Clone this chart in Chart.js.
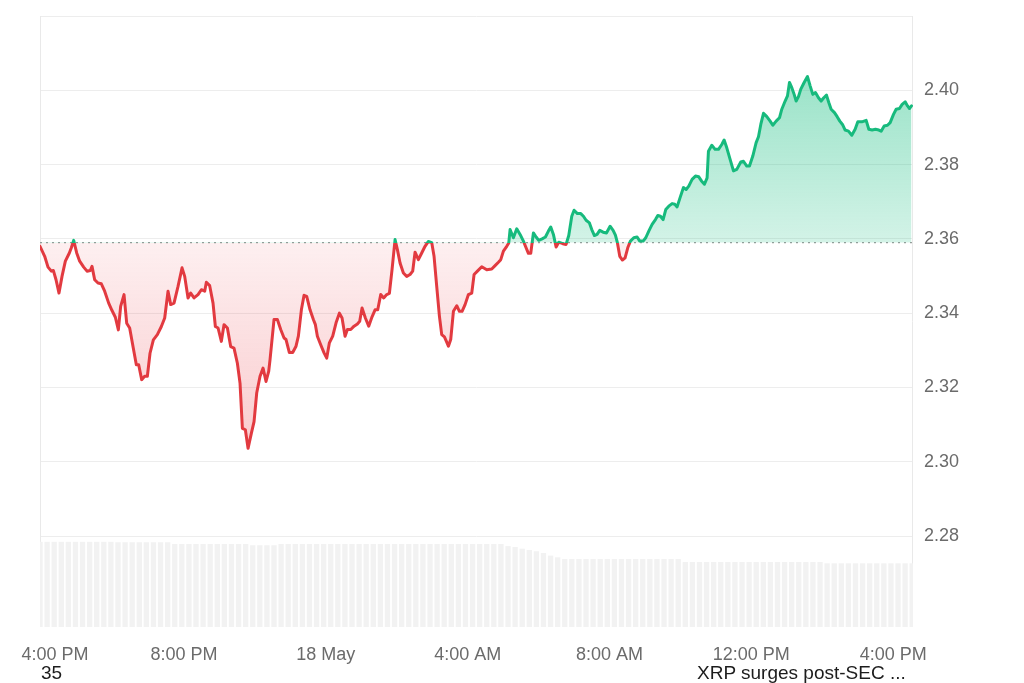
<!DOCTYPE html>
<html>
<head>
<meta charset="utf-8">
<script src="https://cdn.jsdelivr.net/npm/chart.js@4.4.0/dist/chart.umd.min.js"></script>
<style>
html,body{margin:0;padding:0;background:#fff;width:1024px;height:683px;overflow:hidden;}
#wrap{position:relative;width:1024px;height:683px;}
canvas{position:absolute;left:0;top:0;}
.note{position:absolute;font-family:"Liberation Sans",Arial,sans-serif;font-size:19px;color:#1c1c1c;line-height:22px;white-space:nowrap;}
</style>
</head>
<body>
<div id="wrap">
<canvas id="c" width="1024" height="683"></canvas>
<div class="note" style="left:41px;top:662px">35</div>
<div class="note" style="left:697px;top:662px">XRP surges post-SEC ...</div>
</div>
<script>
// Opening price (dotted reference line)
const baseline = 2.359;

// Time in hours since 4:00 PM, 17 May
const times = [
-0.062,0.07,0.164,0.258,0.314,0.39,0.474,0.559,0.653,0.766,
0.822,0.888,0.973,1.057,1.17,1.264,1.358,1.405,1.48,1.574,
1.668,1.762,1.875,1.969,2.063,2.148,2.213,2.308,2.383,2.467,
2.561,2.655,2.721,2.806,2.89,2.966,3.041,3.135,3.248,3.361,
3.455,3.549,3.624,3.718,3.831,3.944,4.019,4.113,4.188,4.282,
4.395,4.489,4.583,4.63,4.724,4.818,4.884,4.96,5.053,5.128,
5.223,5.316,5.41,5.505,5.58,5.646,5.73,5.806,5.9,5.975,
6.05,6.144,6.229,6.313,6.388,
6.426,6.539,6.633,6.727,6.821,6.877,6.971,7.065,7.159,7.225,
7.31,7.385,7.46,7.554,7.648,7.705,7.761,7.855,7.949,8.025,
8.1,8.194,8.288,8.382,8.457,8.542,8.608,8.702,8.796,8.89,
8.955,9.021,9.115,9.209,9.303,9.388,9.463,9.548,9.632,9.717,
9.792,9.867,9.952,10.018,10.093,10.187,10.281,10.375,10.45,10.516,
10.61,10.704,10.798,10.892,10.986,11.052,11.127,11.203,11.268,11.344,
11.4,11.457,11.522,11.598,11.692,11.767,11.842,11.927,12.021,12.115,
12.181,12.275,12.397,12.538,12.679,12.773,12.867,12.933,13.008,13.102,
13.159,
13.196,13.29,13.384,13.478,13.572,13.647,13.713,13.779,13.854,13.93,
14.005,14.099,14.193,14.277,14.343,14.418,14.494,14.569,14.682,14.776,
14.851,14.936,15.001,15.095,15.19,15.265,15.34,15.434,15.5,15.575,
15.65,15.725,15.82,15.914,16.017,16.102,16.167,16.224,16.29,16.365,
16.44,16.515,16.59,16.685,16.779,16.854,16.948,17.023,17.108,17.202,
17.296,17.362,17.437,17.512,17.587,17.672,17.766,17.841,17.907,17.991,
18.086,18.161,18.236,18.33,18.424,18.518,18.594,18.678,18.753,
18.791,18.885,18.979,19.073,19.167,19.233,19.308,19.402,19.496,19.59,
19.703,19.778,19.872,19.948,20.042,20.136,20.202,20.267,20.343,20.437,
20.531,20.606,20.7,20.794,20.86,20.954,21.02,21.076,21.142,21.208,
21.264,21.33,21.396,21.49,21.584,21.659,21.734,21.809,21.894,21.969,
22.044,22.12,22.185,22.251,22.345,22.421,22.496,22.571,22.646,22.74,
22.834,22.928,23.004,23.117,23.239,23.314,23.408,23.502,23.596,23.662,
23.747,23.841,23.916,24.01,24.085,24.179,24.254,24.339,24.405,24.461,
24.517
];

// XRP price (USD)
const prices = [
2.3580,2.3553,2.3524,2.3513,2.3515,2.3490,2.3454,2.3499,2.3540,2.3562,
2.3576,2.3596,2.3562,2.3540,2.3524,2.3513,2.3515,2.3526,2.3490,2.3481,
2.3479,2.3459,2.3427,2.3407,2.3389,2.3355,2.3418,2.3450,2.3373,2.3360,
2.3310,2.3261,2.3261,2.3221,2.3230,2.3230,2.3292,2.3328,2.3342,2.3364,
2.3387,2.3459,2.3423,2.3427,2.3472,2.3522,2.3499,2.3441,2.3454,2.3441,
2.3450,2.3463,2.3459,2.3483,2.3474,2.3427,2.3364,2.3360,2.3324,2.3369,
2.3360,2.3310,2.3306,2.3265,2.3211,2.3090,2.3086,2.3036,2.3077,2.3108,
2.3185,2.3230,2.3252,2.3216,2.3243,
2.3275,2.3383,2.3383,2.3356,2.3333,2.3329,2.3294,2.3294,2.3311,2.3338,
2.3409,2.3448,2.3445,2.3409,2.3383,2.3369,2.3338,2.3315,2.3293,2.3279,
2.3320,2.3338,2.3374,2.3400,2.3387,2.3338,2.3356,2.3356,2.3365,2.3371,
2.3378,2.3414,2.3387,2.3365,2.3390,2.3409,2.3409,2.3450,2.3441,2.3450,
2.3453,2.3517,2.3598,2.3571,2.3535,2.3508,2.3499,2.3504,2.3513,2.3564,
2.3544,2.3562,2.3580,2.3593,2.3590,2.3553,2.3472,2.3392,2.3342,2.3336,
2.3324,2.3311,2.3329,2.3405,2.3420,2.3405,2.3405,2.3423,2.3450,2.3454,
2.3504,2.3513,2.3525,2.3517,2.3519,2.3528,2.3537,2.3544,2.3567,2.3580,
2.3589,
2.3625,2.3603,2.3627,2.3612,2.3594,2.3576,2.3561,2.3561,2.3616,2.3605,
2.3596,2.3600,2.3605,2.3621,2.3632,2.3612,2.3578,2.3591,2.3587,2.3585,
2.3609,2.3661,2.3677,2.3668,2.3668,2.3661,2.3650,2.3643,2.3625,2.3609,
2.3612,2.3623,2.3618,2.3616,2.3634,2.3623,2.3610,2.3589,2.3553,2.3543,
2.3549,2.3576,2.3594,2.3603,2.3605,2.3594,2.3594,2.3603,2.3621,2.3639,
2.3652,2.3663,2.3661,2.3652,2.3679,2.3688,2.3695,2.3693,2.3686,2.3711,
2.3738,2.3733,2.3742,2.3760,2.3769,2.3767,2.3756,2.3747,2.3764,
2.3836,2.3852,2.3841,2.3841,2.3854,2.3866,2.3845,2.3814,2.3783,2.3787,
2.3807,2.3809,2.3796,2.3796,2.3823,2.3859,2.3875,2.3908,2.3938,2.3929,
2.3917,2.3906,2.3917,2.3926,2.3949,2.3971,2.3985,2.4021,2.4007,2.3989,
2.3971,2.3983,2.4003,2.4021,2.4037,2.4012,2.3989,2.3994,2.3980,2.3971,
2.3980,2.3987,2.3967,2.3949,2.3940,2.3929,2.3917,2.3908,2.3893,2.3890,
2.3879,2.3895,2.3915,2.3915,2.3919,2.3895,2.3893,2.3895,2.3893,2.3890,
2.3904,2.3906,2.3913,2.3935,2.3949,2.3951,2.3962,2.3969,2.3958,2.3951,
2.3958
];

// Volume bars (relative units), one bar every 0.2 h from the start
const volStart = -0.062;
const volStep = 0.2;
const volumes = [
0.99,0.99,0.99,0.99,0.99,0.99,0.99,0.99,0.99,0.99,0.99,
0.985,0.985,0.985,0.985,0.985,0.985,0.985,0.985,
0.965,0.965,0.965,0.965,0.965,0.965,0.965,0.965,0.965,0.965,0.965,
0.95,0.95,0.95,0.95,
0.965,0.965,0.965,0.965,0.965,0.965,0.965,0.965,0.965,0.965,
0.965,0.965,0.965,0.965,0.965,0.965,0.965,0.965,0.965,0.965,
0.965,0.965,0.965,0.965,0.965,0.965,0.965,0.965,0.965,0.965,0.965,0.965,
0.94,0.93,0.91,0.895,0.88,0.86,0.83,0.81,
0.79,0.79,0.79,0.79,0.79,0.79,0.79,0.79,0.79,0.79,0.79,0.79,0.79,0.79,0.79,0.79,0.79,
0.755,0.755,0.755,0.755,0.755,0.755,0.755,0.755,0.755,0.755,
0.755,0.755,0.755,0.755,0.755,0.755,0.755,0.755,0.755,0.755,
0.74,0.74,0.74,0.74,0.74,0.74,0.74,0.74,0.74,0.74,0.74,0.74,0.74
];

// Axis ticks
const xTickHours = [0.36, 4, 8, 12, 16, 20, 24];
const xTickLabels = ['4:00 PM','8:00 PM','18 May','4:00 AM','8:00 AM','12:00 PM','4:00 PM'];
const yTicks = [2.28, 2.30, 2.32, 2.34, 2.36, 2.38, 2.40, 2.42];
const yLabelMax = 2.40;

const xMin = -0.062, xMax = 24.56;
const yMin = 2.2555, yMax = 2.42;
const volMax = 7.1;

const GREEN = '#17ba7d';
const RED = '#e23a40';

function lineGradient(chart) {
  const {ctx, chartArea, scales} = chart;
  if (!chartArea || !scales.y) return RED;
  const t = chartArea.top, b = chartArea.bottom;
  const yb = scales.y.getPixelForValue(baseline);
  const f = Math.min(Math.max((yb - t) / (b - t), 0), 1);
  const g = ctx.createLinearGradient(0, t, 0, b);
  g.addColorStop(0, GREEN);
  g.addColorStop(f, GREEN);
  g.addColorStop(f, RED);
  g.addColorStop(1, RED);
  return g;
}

function fillGradient(chart) {
  const {ctx, chartArea, scales} = chart;
  if (!chartArea || !scales.y) return 'rgba(0,0,0,0)';
  const t = chartArea.top, b = chartArea.bottom, h = b - t;
  const fr = v => Math.min(Math.max((scales.y.getPixelForValue(v) - t) / h, 0), 1);
  const fHi = fr(Math.max(...prices));
  const fb = fr(baseline);
  const fLo = fr(Math.min(...prices));
  const g = ctx.createLinearGradient(0, t, 0, b);
  g.addColorStop(0, 'rgba(22,190,128,0.45)');
  g.addColorStop(fHi, 'rgba(22,190,128,0.43)');
  g.addColorStop(fb, 'rgba(22,190,128,0.19)');
  g.addColorStop(fb, 'rgba(234,57,67,0.08)');
  g.addColorStop(fLo, 'rgba(234,57,67,0.26)');
  g.addColorStop(1, 'rgba(234,57,67,0.28)');
  return g;
}

const framePlugin = {
  id: 'frame',
  beforeDatasetsDraw(chart) {
    const {ctx, chartArea: a} = chart;
    ctx.save();
    ctx.strokeStyle = '#e9e9e9';
    ctx.lineWidth = 1;
    ctx.beginPath();
    ctx.moveTo(Math.round(a.left) + 0.5, a.top);
    ctx.lineTo(Math.round(a.left) + 0.5, a.bottom);
    ctx.moveTo(Math.round(a.right) - 0.5, a.top);
    ctx.lineTo(Math.round(a.right) - 0.5, a.bottom);
    ctx.stroke();
    ctx.restore();
  }
};

Chart.defaults.font.family = '"Liberation Sans", Arial, sans-serif';

new Chart(document.getElementById('c'), {
  data: {
    datasets: [
      {
        type: 'line',
        order: 0,
        data: times.map((t, i) => ({x: t, y: prices[i]})),
        borderColor: ctx => lineGradient(ctx.chart),
        backgroundColor: ctx => fillGradient(ctx.chart),
        borderWidth: 3,
        pointRadius: 0,
        tension: 0,
        fill: {value: baseline},
        borderJoinStyle: 'round',
        borderCapStyle: 'round'
      },
      {
        type: 'line',
        order: 1,
        data: [{x: xMin, y: baseline}, {x: xMax, y: baseline}],
        borderColor: '#9c9c9c',
        borderWidth: 1.2,
        borderDash: [2, 4],
        pointRadius: 0,
        fill: false
      },
      {
        type: 'bar',
        order: 2,
        yAxisID: 'yv',
        data: volumes.map((v, i) => ({x: volStart + i * volStep, y: v})),
        backgroundColor: '#f2f2f2',
        borderWidth: 0,
        barPercentage: 0.75,
        categoryPercentage: 1
      }
    ]
  },
  options: {
    responsive: false,
    animation: false,
    devicePixelRatio: 1,
    layout: {padding: {left: 40, top: 16, right: 0, bottom: 0}},
    plugins: {legend: {display: false}, tooltip: {enabled: false}},
    scales: {
      x: {
        type: 'linear',
        offset: false,
        min: xMin,
        max: xMax,
        grid: {display: false, drawTicks: false, offset: false},
        border: {display: false},
        afterBuildTicks: s => { s.ticks = xTickHours.map(v => ({value: v})); },
        afterFit: s => { s.height = 56; s.paddingLeft = 0; s.paddingRight = 0; },
        ticks: {
          autoSkip: false,
          maxRotation: 0,
          padding: 17,
          color: '#6b6b6b',
          font: {size: 18},
          callback: (v, i) => xTickLabels[i]
        }
      },
      y: {
        type: 'linear',
        position: 'right',
        min: yMin,
        max: yMax,
        grid: {color: '#ededed', drawTicks: false},
        border: {display: false},
        afterBuildTicks: s => { s.ticks = yTicks.map(v => ({value: v})); },
        afterFit: s => { s.width = 111; s.paddingTop = 0; s.paddingBottom = 0; },
        ticks: {
          padding: 11,
          color: '#6b6b6b',
          font: {size: 18},
          callback: v => (v > yLabelMax + 1e-9 ? '' : v.toFixed(2))
        }
      },
      yv: {
        type: 'linear',
        display: false,
        min: 0,
        max: volMax
      }
    }
  },
  plugins: [framePlugin]
});
</script>
</body>
</html>
